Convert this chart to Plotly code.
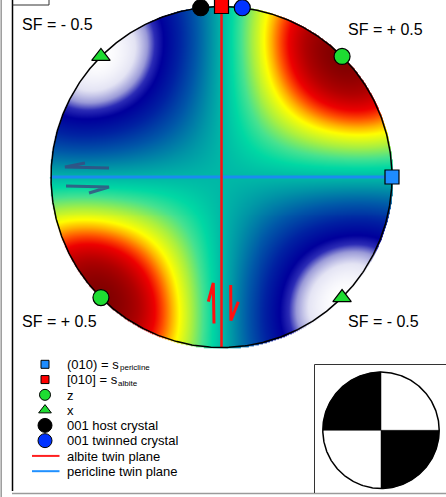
import numpy as np
import plotly.graph_objects as go

# ---------------------------------------------------------------- data
# directions as (trend, plunge) in degrees, trend clockwise from north
pericline_pole_trend = [90]      # (010) = s_pericline
pericline_pole_plunge = [0]
albite_dir_trend = [0]           # [010] = s_albite
albite_dir_plunge = [0]
z_trend = [45, 225]
z_plunge = [0, 0]
x_trend = [135, 315]
x_plunge = [0, 0]
host_001_trend = [353]
host_001_plunge = [0]
twin_001_trend = [7]
twin_001_plunge = [0]

# strikes of the two vertical twin planes
albite_plane_strike = 0
pericline_plane_strike = 90

sf_labels = ["SF = - 0.5", "SF = + 0.5", "SF = + 0.5", "SF = - 0.5"]
legend_labels = ["(010) = s", "[010] = s", "z", "x", "001 host crystal",
                 "001 twinned crystal", "albite twin plane", "pericline twin plane"]
legend_subs = ["pericline", "albite", "", "", "", "", "", ""]

# ---------------------------------------------------------------- layout geometry (pixels)
W, H = 446, 497
CX, CY, R = 221.5, 177.0, 170.5          # main net
BX, BY, BR = 381.0, 430.3, 58.2          # beach-ball inset
FONT = "Liberation Sans, Arial, sans-serif"


def ux(px):
    return (px - CX) / R


def uy(py):
    return (CY - py) / R


def pxp(px):
    return px / W


def pyp(py):
    return 1 - py / H


def project(trend, plunge):
    """Lower-hemisphere equal-area projection, unit primitive circle."""
    t = np.radians(np.asarray(trend, float))
    p = np.radians(np.asarray(plunge, float))
    r = np.sqrt(2) * np.sin((np.pi / 2 - p) / 2)
    return r * np.sin(t), r * np.cos(t)


def unit_vec(trend, plunge):
    t = np.radians(trend)
    p = np.radians(plunge)
    return np.array([np.cos(p) * np.sin(t), np.cos(p) * np.cos(t), np.sin(p)])


# ---------------------------------------------------------------- Schmid factor field
g = np.linspace(-1.004, 1.004, 345)
U, V = np.meshgrid(g, g)
rr = np.hypot(U, V)
rc = np.clip(rr, 0, 1)
plunge = np.pi / 2 - 2 * np.arcsin(rc / np.sqrt(2))
trend = np.arctan2(U, V)
pe = np.cos(plunge) * np.sin(trend)
pn = np.cos(plunge) * np.cos(trend)
pd = np.sin(plunge)
n_vec = unit_vec(pericline_pole_trend[0], pericline_pole_plunge[0])
d_vec = unit_vec(albite_dir_trend[0], albite_dir_plunge[0])
SF = (pe * n_vec[0] + pn * n_vec[1] + pd * n_vec[2]) * (pe * d_vec[0] + pn * d_vec[1] + pd * d_vec[2])
SF[rr > 1.004] = np.nan

colorscale = [
    [0.00, "#FFFFFF"],
    [0.05, "#E4E4F4"],
    [0.09, "#9A9AD8"],
    [0.12, "#2C2CB6"],
    [0.16, "#00009C"],
    [0.24, "#0022A2"],
    [0.34, "#0058A8"],
    [0.44, "#0096A6"],
    [0.50, "#00B8A6"],
    [0.56, "#00D8A4"],
    [0.62, "#46E290"],
    [0.69, "#AAF040"],
    [0.76, "#FFFF00"],
    [0.80, "#FFB000"],
    [0.84, "#FF5200"],
    [0.88, "#EE0000"],
    [0.94, "#B00000"],
    [1.00, "#800000"],
]

fig = go.Figure()
fig.add_trace(go.Heatmap(x=g, y=g, z=SF, colorscale=colorscale, zmin=-0.5, zmax=0.5,
                         zsmooth="best", showscale=False, hoverinfo="skip"))


def plane_trace(strike):
    pl = np.linspace(0, 90, 50)
    tr = np.concatenate([np.full(50, strike), np.full(50, strike + 180)])
    pls = np.concatenate([pl, pl[::-1]])
    return project(tr, pls)


px_, py_ = plane_trace(pericline_plane_strike)
fig.add_trace(go.Scatter(x=px_, y=py_, mode="lines", line=dict(color="#1A8CF0", width=3),
                         hoverinfo="skip"))
ax_, ay_ = plane_trace(albite_plane_strike)
fig.add_trace(go.Scatter(x=ax_, y=ay_, mode="lines", line=dict(color="#FF1010", width=2.5),
                         hoverinfo="skip"))

# primitive circle
tt = np.linspace(0, 360, 721)
cx_, cy_ = project(tt, np.zeros_like(tt))
fig.add_trace(go.Scatter(x=cx_, y=cy_, mode="lines", line=dict(color="black", width=1.5),
                         hoverinfo="skip"))

# shear-sense half arrows (pixel paths)
shear_left = [
    ([85, 65, 109], [163, 167, 168]),
    ([66, 109, 89], [186, 187, 193]),
]
for xs, ys in shear_left:
    fig.add_trace(go.Scatter(x=[ux(v) for v in xs], y=[uy(v) for v in ys], mode="lines",
                             line=dict(color="rgba(58,72,128,0.8)", width=3), hoverinfo="skip"))
shear_red = [
    ([208.3, 213.3, 214], [301.7, 283, 323.5]),
    ([230.7, 230.9, 238.3], [285, 320.5, 301.7]),
]
for xs, ys in shear_red:
    fig.add_trace(go.Scatter(x=[ux(v) for v in xs], y=[uy(v) for v in ys], mode="lines",
                             line=dict(color="#FF1010", width=3), hoverinfo="skip"))

MLINE = dict(color="black", width=1.2)


def add_points(trend, plunge, symbol, size, color):
    x, y = project(trend, plunge)
    fig.add_trace(go.Scatter(x=x, y=y, mode="markers", hoverinfo="skip",
                             marker=dict(symbol=symbol, size=size, color=color, line=MLINE)))


add_points(host_001_trend, host_001_plunge, "circle", 16, "black")
add_points(twin_001_trend, twin_001_plunge, "circle", 16, "#0033FF")
add_points(albite_dir_trend, albite_dir_plunge, "square", 14, "#FF0000")
add_points(pericline_pole_trend, pericline_pole_plunge, "square", 14, "#1E8CFF")
add_points(z_trend, z_plunge, "circle", 16, "#1EDC32")
add_points(x_trend, x_plunge, "triangle-up", 16, "#1EDC32")

# ---------------------------------------------------------------- key
row0, row_step = 364.3, 15.27
key_x = 45
key_style = [
    ("square", 8, "#1E8CFF"), ("square", 8, "#FF0000"), ("circle", 11, "#1EDC32"),
    ("triangle-up", 11, "#1EDC32"), ("circle", 14, "black"), ("circle", 14, "#0033FF"),
    ("line", 2, "#FF2020"), ("line", 2, "#2090FF"),
]
annotations = []
sub_offsets = [119.5, 117.5]
for i, (lab, sub, sty) in enumerate(zip(legend_labels, legend_subs, key_style)):
    yrow = row0 + i * row_step
    sym, size, col = sty
    if sym == "line":
        fig.add_trace(go.Scatter(x=[ux(32), ux(59.5)], y=[uy(yrow), uy(yrow)], mode="lines",
                                 line=dict(color=col, width=size), hoverinfo="skip"))
    else:
        fig.add_trace(go.Scatter(x=[ux(key_x)], y=[uy(yrow)], mode="markers", hoverinfo="skip",
                                 marker=dict(symbol=sym, size=size, color=col,
                                             line=dict(color="black", width=1))))
    annotations.append(dict(x=pxp(64.7), y=pyp(yrow + 0.3), xref="paper", yref="paper",
                            text=lab, showarrow=False, xanchor="left", yanchor="middle",
                            font=dict(family=FONT, size=13, color="black")))
    if sub:
        annotations.append(dict(x=pxp(sub_offsets[i] - 2), y=pyp(yrow + 3.5), xref="paper",
                                yref="paper", text=sub, showarrow=False, xanchor="left",
                                yanchor="middle", font=dict(family=FONT, size=8, color="black")))

# SF labels
sf_pos = [(57.7, 24.5), (385.0, 29.5), (59.7, 321.0), (383.0, 321.0)]
for lab, (lx, ly) in zip(sf_labels, sf_pos):
    annotations.append(dict(x=pxp(lx), y=pyp(ly), xref="paper", yref="paper", text=lab,
                            showarrow=False, xanchor="center", yanchor="middle",
                            font=dict(family=FONT, size=16, color="black")))

# ---------------------------------------------------------------- beach-ball inset
arc_ul = np.radians(np.linspace(90, 180, 91))
arc_lr = np.radians(np.linspace(270, 360, 91))
for arc in (arc_ul, arc_lr):
    fig.add_trace(go.Scatter(x=np.concatenate([[0], np.cos(arc), [0]]),
                             y=np.concatenate([[0], np.sin(arc), [0]]),
                             xaxis="x2", yaxis="y2", mode="lines", fill="toself",
                             fillcolor="black", line=dict(color="black", width=0.5),
                             hoverinfo="skip"))
ca = np.radians(np.linspace(0, 360, 361))
fig.add_trace(go.Scatter(x=np.cos(ca), y=np.sin(ca), xaxis="x2", yaxis="y2", mode="lines",
                         line=dict(color="black", width=1.5), hoverinfo="skip"))

# frame lines
shapes = [
    dict(type="line", xref="paper", yref="paper", x0=pxp(1.2), x1=pxp(1.2), y0=pyp(0), y1=pyp(497),
         line=dict(color="#9A9A9A", width=1.5)),
    dict(type="line", xref="paper", yref="paper", x0=pxp(12.5), x1=pxp(12.5), y0=pyp(0), y1=pyp(491),
         line=dict(color="black", width=1.5)),
    dict(type="line", xref="paper", yref="paper", x0=pxp(12.5), x1=pxp(49), y0=pyp(5), y1=pyp(5),
         line=dict(color="#333333", width=1)),
    dict(type="line", xref="paper", yref="paper", x0=pxp(49), x1=pxp(49), y0=pyp(0), y1=pyp(5),
         line=dict(color="#333333", width=1)),
    dict(type="line", xref="paper", yref="paper", x0=pxp(12), x1=pxp(446), y0=pyp(493.5), y1=pyp(493.5),
         line=dict(color="#9A9A9A", width=1.5)),
    dict(type="line", xref="paper", yref="paper", x0=pxp(314.5), x1=pxp(314.5), y0=pyp(364.5), y1=pyp(493),
         line=dict(color="#333333", width=1)),
    dict(type="line", xref="paper", yref="paper", x0=pxp(314.5), x1=pxp(446), y0=pyp(364.5), y1=pyp(364.5),
         line=dict(color="#333333", width=1)),
]

fig.update_layout(
    width=W, height=H, margin=dict(l=0, r=0, t=0, b=0),
    paper_bgcolor="white", plot_bgcolor="rgba(0,0,0,0)", showlegend=False,
    xaxis=dict(range=[ux(0), ux(W)], visible=False, domain=[0, 1]),
    yaxis=dict(range=[uy(H), uy(0)], visible=False, domain=[0, 1]),
    xaxis2=dict(domain=[pxp(314), 1], range=[(314 - BX) / BR, (W - BX) / BR], visible=False,
                anchor="y2"),
    yaxis2=dict(domain=[0, pyp(364)], range=[(BY - H) / BR, (BY - 364) / BR], visible=False,
                anchor="x2"),
    annotations=annotations, shapes=shapes,
)

fig.write_html("out.html")
